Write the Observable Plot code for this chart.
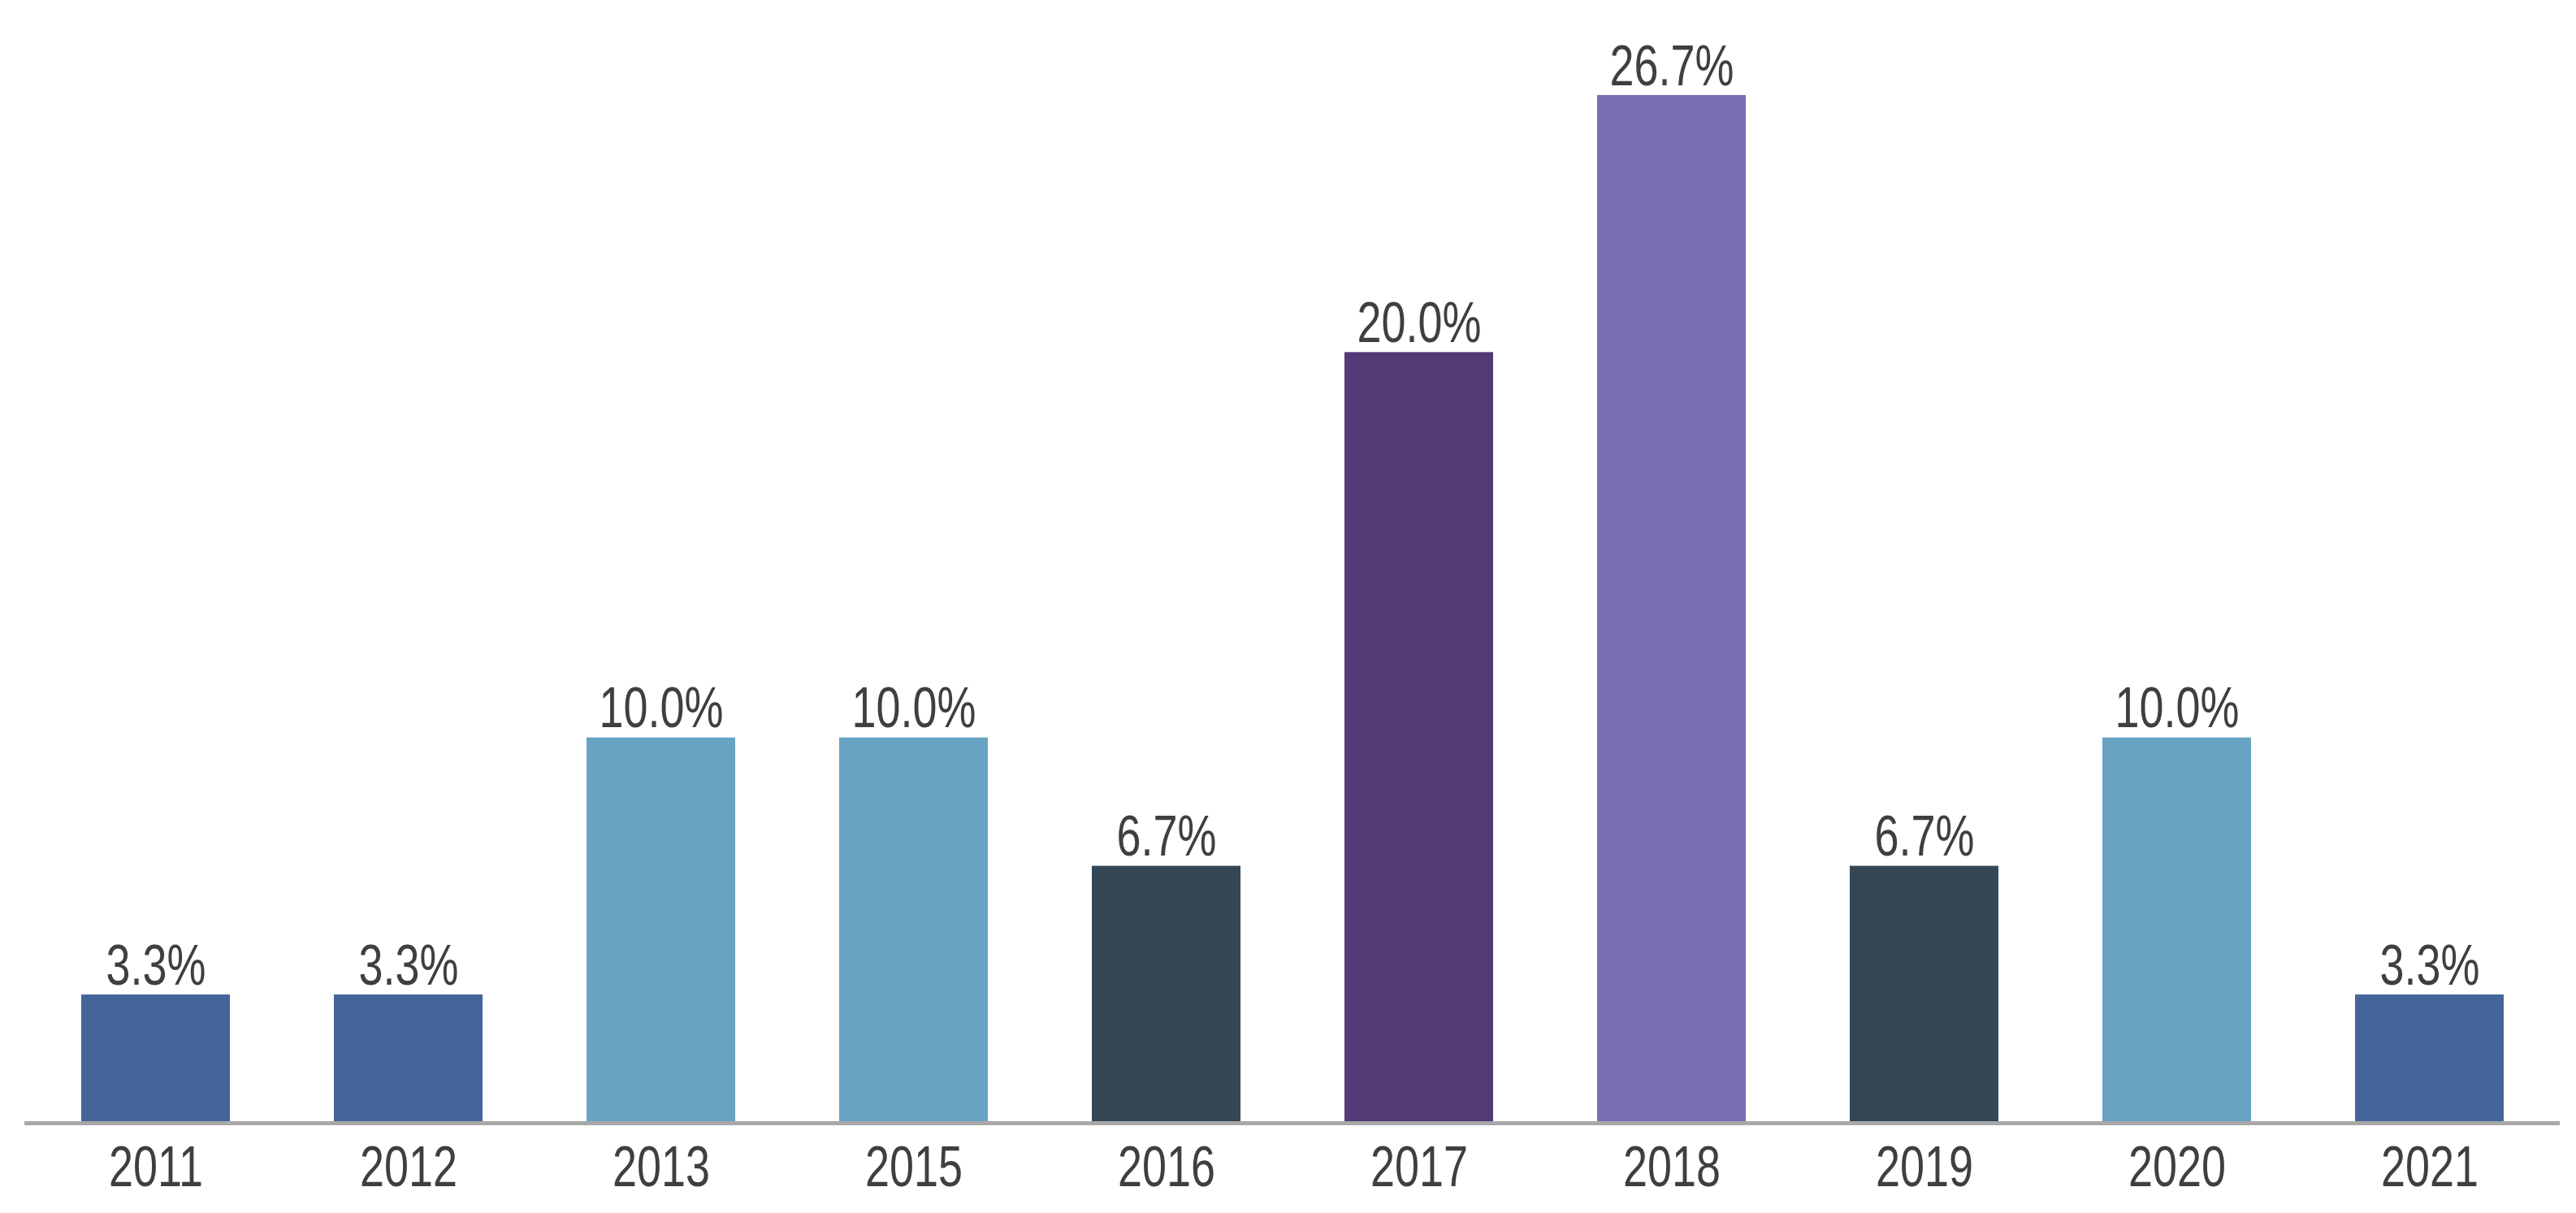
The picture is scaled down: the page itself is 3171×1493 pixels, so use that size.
<!DOCTYPE html>
<html>
<head>
<meta charset="utf-8">
<script src="https://cdn.jsdelivr.net/npm/d3@7"></script>
<script src="https://cdn.jsdelivr.net/npm/@observablehq/plot@0.6"></script>
<style>
  html, body { margin: 0; padding: 0; background: #ffffff; }
  #chart svg { display: block; }
</style>
</head>
<body>
<div id="chart"></div>
<script>
// Data
const years = ["2011", "2012", "2013", "2015", "2016", "2017", "2018", "2019", "2020", "2021"];
const shares = [3.33, 3.33, 10.0, 10.0, 6.67, 20.0, 26.67, 6.67, 10.0, 3.33];
const shareLabels = ["3.3%", "3.3%", "10.0%", "10.0%", "6.7%", "20.0%", "26.7%", "6.7%", "10.0%", "3.3%"];

// Style constants
const barColors = ["#44659a", "#44659a", "#68a3c3", "#68a3c3", "#344757", "#523b77", "#7b6db3", "#344757", "#68a3c3", "#44659a"];
const textColor = "#3f3f3f";

const data = years.map((year, i) => ({year, share: shares[i], label: shareLabels[i]}));

const W = 3171, H = 1493;
const chart = Plot.plot({
  width: W,
  height: H,
  marginLeft: 30,
  marginRight: 20,
  marginTop: 117,
  marginBottom: 111,
  style: {fontFamily: "'Liberation Sans', Arial, sans-serif", color: textColor, background: "#ffffff"},
  x: {domain: years, paddingInner: 0.413, paddingOuter: 0.215, label: null},
  y: {domain: [0, 26.67], axis: null},
  color: {domain: years, range: barColors},
  marks: [
    Plot.barY(data, {x: "year", y: "share", fill: "year"}),
    Plot.ruleY([0], {stroke: "#a8a8a8", strokeWidth: 5}),
    Plot.text(data, {x: "year", y: "share", text: "label", lineAnchor: "bottom", dy: -13, fontSize: 70, fill: textColor}),
    Plot.axisX({tickSize: 0, tickPadding: 28, fontSize: 70, color: textColor, label: null})
  ]
});
document.getElementById("chart").appendChild(chart);

// Condense glyphs horizontally around their anchors, as in the reference
d3.select(chart).selectAll("text").each(function () {
  const t = this.getAttribute("transform") || "";
  this.setAttribute("transform", (t + " scale(0.77,1)").trim());
});
</script>
</body>
</html>
